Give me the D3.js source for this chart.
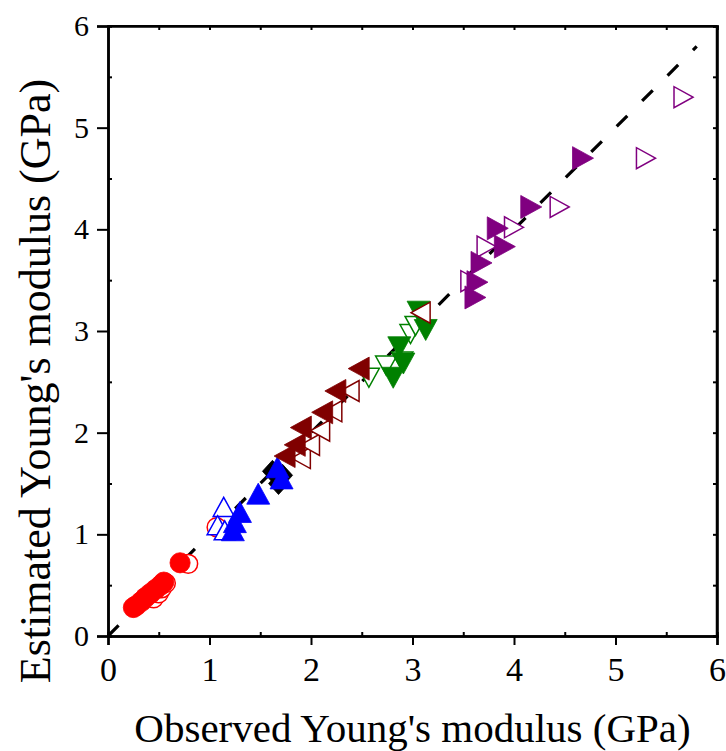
<!DOCTYPE html>
<html>
<head>
<meta charset="utf-8">
<script src="https://cdn.jsdelivr.net/npm/d3@7"></script>
<style>
  body { margin: 0; background: #fff; }
  svg { display: block; }
  text { font-family: "Liberation Serif", "Times New Roman", serif; }
</style>
</head>
<body>
<svg width="726" height="751"></svg>
<script>
// observed (x) vs estimated (y), GPa — filled and open symbols per group
var redFilled = [[0.25,0.28],[0.28,0.30],[0.33,0.34],[0.37,0.38],[0.42,0.42],[0.47,0.46],[0.52,0.50],[0.55,0.53],[0.71,0.72]];
var redOpen = [[0.45,0.37],[0.50,0.42],[0.53,0.47],[0.57,0.52],[0.79,0.71],[1.07,1.07]];
var blackFilled = [[1.62,1.62],[1.68,1.50],[1.72,1.58]];
var blueOpen = [[1.14,1.27],[1.08,1.09],[1.15,1.04]];
var blueFilled = [[1.23,1.04],[1.25,1.12],[1.30,1.22],[1.48,1.40],[1.71,1.55],[1.67,1.66]];
var maroonOpen = [[1.90,1.75],[1.99,1.88],[2.09,2.02],[2.21,2.21],[2.38,2.41],[3.08,3.18]];
var maroonFilled = [[1.74,1.77],[1.84,1.88],[1.90,2.05],[2.11,2.20],[2.24,2.41],[2.47,2.63]];
var greenOpen = [[2.57,2.54],[2.74,2.66],[2.90,2.70],[2.98,2.97],[3.03,3.05]];
var greenFilled = [[2.81,2.54],[2.91,2.68],[2.87,2.84],[3.13,3.01],[3.06,3.19]];
var purpleOpen = [[3.57,3.49],[3.73,3.83],[4.00,4.02],[4.45,4.22],[5.30,4.70],[5.67,5.30]];
var purpleFilled = [[3.62,3.33],[3.64,3.48],[3.68,3.67],[3.91,3.83],[3.84,4.01],[4.17,4.22],[4.68,4.70]];
var majorTicks = [0, 1, 2, 3, 4, 5, 6];
var minorTicks = [0.5, 1.5, 2.5, 3.5, 4.5, 5.5];
var lineEnds = [0, 5.8];

var svg = d3.select("svg");
var margin = {left: 108, top: 26, right: 9, bottom: 115};
var w = 726 - margin.left - margin.right;
var h = 751 - margin.top - margin.bottom;

var x = d3.scaleLinear().domain([0, 6]).range([0, w]);
var y = d3.scaleLinear().domain([0, 6]).range([h, 0]);

var g = svg.append("g").attr("transform", "translate(" + margin.left + "," + margin.top + ")");

// frame (top / right)
g.append("line").attr("x1", 0).attr("x2", w).attr("y1", 0).attr("y2", 0)
  .attr("stroke", "#000").attr("stroke-width", 2);
g.append("line").attr("x1", w).attr("x2", w).attr("y1", 0).attr("y2", h)
  .attr("stroke", "#000").attr("stroke-width", 2.5);

// top/right inner ticks
g.append("g").attr("class", "ax").call(d3.axisTop(x).tickValues(majorTicks.concat(minorTicks)).tickSize(-4).tickFormat(""));
g.append("g").attr("class", "ax").attr("transform", "translate(" + w + ",0)")
  .call(d3.axisRight(y).tickValues(majorTicks.concat(minorTicks)).tickSize(-4).tickFormat(""));

// bottom axis
var xAx = g.append("g").attr("class", "ax").attr("transform", "translate(0," + h + ")")
  .call(d3.axisBottom(x).tickValues(majorTicks).tickSize(9).tickPadding(12).tickFormat(d3.format("d")));
xAx.selectAll("text").style("font-size", "34px");
g.append("g").attr("class", "ax").attr("transform", "translate(0," + h + ")")
  .call(d3.axisBottom(x).tickValues(minorTicks).tickSize(-4).tickFormat(""));

// left axis
var yAx = g.append("g").attr("class", "ax")
  .call(d3.axisLeft(y).tickValues(majorTicks).tickSize(11).tickPadding(8).tickFormat(d3.format("d")));
yAx.selectAll("text").style("font-size", "30px");
g.append("g").attr("class", "ax")
  .call(d3.axisLeft(y).tickValues(minorTicks).tickSize(-4).tickFormat(""));

g.selectAll(".ax path").attr("stroke", "#000").attr("stroke-width", 2.5);
g.selectAll(".ax line").attr("stroke", "#000").attr("stroke-width", 2);
g.selectAll(".ax text").attr("fill", "#000").style("font-family", "'Liberation Serif', serif");

// 1:1 line
g.append("line")
  .attr("x1", x(lineEnds[0])).attr("y1", y(lineEnds[0]))
  .attr("x2", x(lineEnds[1])).attr("y2", y(lineEnds[1]))
  .attr("stroke", "#000").attr("stroke-width", 3.2)
  .attr("stroke-dasharray", "15,21");

// marker shapes centred on their bounding box
function tri(dir, b, l) {
  // b: base, l: depth
  var hb = b / 2, hl = l / 2;
  if (dir === "up") return "M0," + (-hl) + "L" + hb + "," + hl + "L" + (-hb) + "," + hl + "Z";
  if (dir === "down") return "M0," + hl + "L" + hb + "," + (-hl) + "L" + (-hb) + "," + (-hl) + "Z";
  if (dir === "left") return "M" + (-hl) + ",0L" + hl + "," + (-hb) + "L" + hl + "," + hb + "Z";
  return "M" + hl + ",0L" + (-hl) + "," + (-hb) + "L" + (-hl) + "," + hb + "Z";
}

function draw(data, shape, color, filled) {
  var sel = g.append("g").selectAll("path").data(data).join("path")
    .attr("transform", function(d) { return "translate(" + x(d[0]) + "," + y(d[1]) + ")"; })
    .attr("fill", filled ? color : "#fff")
    .attr("stroke", color)
    .attr("stroke-width", filled ? 0.8 : 1.5);
  if (shape === "circle") sel.attr("d", d3.symbol().type(d3.symbolCircle).size(filled ? 320 : 280)());
  else if (shape === "diamond") sel.attr("d", "M0,-11L10,0L0,11L-10,0Z");
  else sel.attr("d", tri(shape, filled ? 23 : 21, filled ? 21 : 19));
}

draw(redOpen, "circle", "#ff0000", false);
draw(redFilled, "circle", "#ff0000", true);
draw(blackFilled, "diamond", "#000", true);
draw(blueOpen, "up", "#0000ff", false);
draw(blueFilled, "up", "#0000ff", true);
draw(greenOpen, "down", "#008000", false);
draw(greenFilled, "down", "#008000", true);
draw(maroonOpen, "left", "#800000", false);
draw(maroonFilled, "left", "#800000", true);
draw(purpleOpen, "right", "#800080", false);
draw(purpleFilled, "right", "#800080", true);

// axis titles
svg.append("text")
  .attr("x", margin.left + w / 2).attr("y", 742)
  .attr("text-anchor", "middle").style("font-size", "41px")
  .text("Observed Young's modulus (GPa)");
svg.append("text")
  .attr("transform", "translate(50," + 381 + ") rotate(-90)")
  .attr("text-anchor", "middle").style("font-size", "44px")
  .text("Estimated Young's modulus (GPa)");
</script>
</body>
</html>
